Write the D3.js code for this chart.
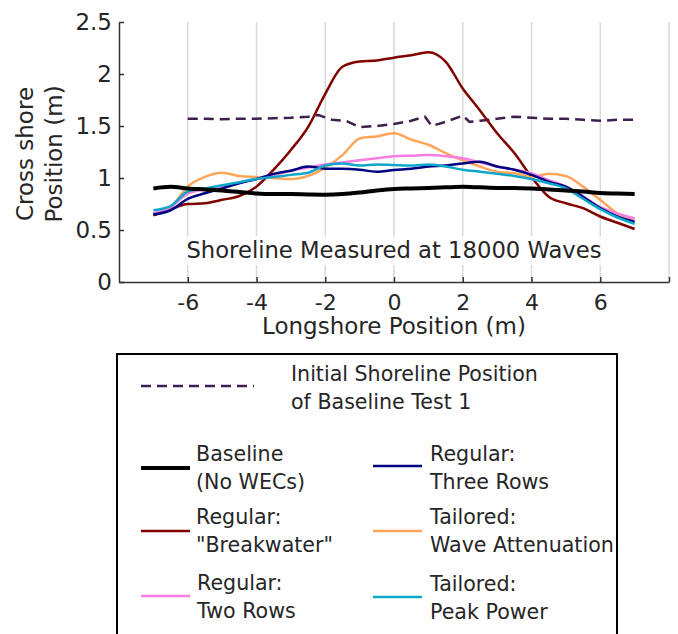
<!DOCTYPE html>
<html>
<head>
<meta charset="utf-8">
<script src="https://cdn.jsdelivr.net/npm/d3@7"></script>
<style>
  body { margin: 0; background: #fff; }
  svg text { font-family: "DejaVu Sans", Verdana, sans-serif; fill: #262626; }
</style>
</head>
<body>
<svg id="chart" width="678" height="634"></svg>
<script>
// longshore positions (m) for each curve
var xInitial = [-6, -5.5, -5, -4.5, -4, -3.5, -3, -2.5, -2.2, -1.8, -1.4, -1, -0.5, 0, 0.5, 0.9, 1.1, 1.5, 2.0, 2.2, 2.5, 3, 3.5, 4, 4.5, 5, 5.5, 6, 6.5, 7];
var initialShore = [1.57, 1.57, 1.565, 1.57, 1.57, 1.575, 1.58, 1.59, 1.605, 1.56, 1.55, 1.49, 1.50, 1.52, 1.55, 1.59, 1.50, 1.54, 1.60, 1.54, 1.55, 1.57, 1.59, 1.58, 1.57, 1.57, 1.56, 1.55, 1.56, 1.56];

var xPos = [-7, -6.5, -6, -5.5, -5, -4.5, -4, -3.5, -3, -2.5, -2, -1.5, -1, -0.5, 0, 0.5, 1, 1.5, 2, 2.5, 3, 3.5, 4, 4.5, 5, 5.5, 6, 6.5, 7];
var baseline    = [0.90, 0.915, 0.90, 0.89, 0.88, 0.865, 0.85, 0.845, 0.845, 0.842, 0.84, 0.845, 0.86, 0.88, 0.895, 0.90, 0.905, 0.91, 0.915, 0.91, 0.905, 0.905, 0.90, 0.89, 0.88, 0.87, 0.855, 0.85, 0.845];
var breakwater  = [0.64, 0.70, 0.75, 0.757, 0.79, 0.827, 0.917, 1.08, 1.27, 1.49, 1.81, 2.07, 2.12, 2.13, 2.157, 2.18, 2.21, 2.12, 1.86, 1.65, 1.43, 1.24, 1.01, 0.82, 0.757, 0.71, 0.63, 0.57, 0.51];
var twoRows     = [0.66, 0.72, 0.85, 0.89, 0.92, 0.955, 0.99, 1.03, 1.07, 1.10, 1.13, 1.15, 1.17, 1.19, 1.21, 1.215, 1.22, 1.21, 1.19, 1.15, 1.11, 1.08, 1.045, 0.98, 0.917, 0.82, 0.72, 0.66, 0.61];
var threeRows   = [0.65, 0.69, 0.80, 0.853, 0.90, 0.95, 0.99, 1.04, 1.07, 1.11, 1.09, 1.09, 1.08, 1.06, 1.077, 1.09, 1.11, 1.12, 1.14, 1.157, 1.11, 1.08, 1.03, 0.965, 0.917, 0.82, 0.71, 0.63, 0.58];
var waveAtten   = [0.66, 0.72, 0.917, 1.01, 1.05, 1.02, 1.01, 1.00, 0.99, 1.02, 1.10, 1.22, 1.38, 1.40, 1.43, 1.37, 1.32, 1.24, 1.17, 1.11, 1.06, 1.045, 1.01, 1.04, 1.02, 0.917, 0.79, 0.66, 0.61];
var peakPower   = [0.69, 0.73, 0.87, 0.90, 0.93, 0.96, 0.99, 1.01, 1.03, 1.05, 1.12, 1.14, 1.12, 1.13, 1.125, 1.12, 1.13, 1.11, 1.08, 1.06, 1.04, 1.02, 0.99, 0.95, 0.90, 0.80, 0.70, 0.62, 0.56];

var xGrid = [-6, -4, -2, 0, 2, 4, 6, 8];
var yTicks = [0, 0.5, 1, 1.5, 2, 2.5];

var series = [
  { name: "Baseline", lines: ["Baseline", "(No WECs)"], values: baseline, color: "#000000", width: 4 },
  { name: "Breakwater", lines: ["Regular:", "\"Breakwater\""], values: breakwater, color: "#800000", width: 2.5 },
  { name: "Two Rows", lines: ["Regular:", "Two Rows"], values: twoRows, color: "#f77fe3", width: 2.5 },
  { name: "Three Rows", lines: ["Regular:", "Three Rows"], values: threeRows, color: "#000080", width: 2.5 },
  { name: "Wave Attenuation", lines: ["Tailored:", "Wave Attenuation"], values: waveAtten, color: "#ffa65a", width: 2.5 },
  { name: "Peak Power", lines: ["Tailored:", "Peak Power"], values: peakPower, color: "#10a6c9", width: 2.5 }
];

var svg = d3.select("#chart");
var plotL = 119, plotR = 669, plotT = 22, plotB = 282;

var x = d3.scaleLinear().domain([-8, 8]).range([plotL, plotR]);
var y = d3.scaleLinear().domain([0, 2.5]).range([plotB, plotT]);

// gridlines
svg.append("g").selectAll("line")
  .data(xGrid).enter().append("line")
  .attr("x1", function(d) { return x(d); })
  .attr("x2", function(d) { return x(d); })
  .attr("y1", plotT).attr("y2", plotB)
  .attr("stroke", "#d9d9d9").attr("stroke-width", 1.5);

// title box
var title = svg.append("g");
title.append("rect")
  .attr("x", x(-6) - 2).attr("y", 236).attr("width", x(6) - x(-6) + 4).attr("height", 29)
  .attr("fill", "#ffffff").attr("fill-opacity", 0.8);
title.append("text")
  .attr("x", x(0)).attr("y", 258)
  .attr("text-anchor", "middle").attr("font-size", "22.7px")
  .text("Shoreline Measured at 18000 Waves");

var smooth = d3.line()
  .x(function(d) { return x(d[0]); })
  .y(function(d) { return y(d[1]); })
  .curve(d3.curveMonotoneX);
var straight = d3.line()
  .x(function(d) { return x(d[0]); })
  .y(function(d) { return y(d[1]); });

// initial shoreline
svg.append("path")
  .datum(d3.zip(xInitial, initialShore))
  .attr("d", straight)
  .attr("fill", "none").attr("stroke", "#3f1f4c")
  .attr("stroke-width", 2.5).attr("stroke-dasharray", "10,6");

var order = [1, 4, 2, 3, 5, 0];
order.forEach(function(i) {
  var s = series[i];
  svg.append("path")
    .datum(d3.zip(xPos, s.values))
    .attr("d", smooth)
    .attr("fill", "none").attr("stroke", s.color)
    .attr("stroke-width", s.width).attr("stroke-linejoin", "round");
});

// axes
var xAxis = svg.append("g").attr("transform", "translate(0," + plotB + ")")
  .call(d3.axisBottom(x).tickValues(xGrid).tickSizeInner(-5).tickSizeOuter(0)
    .tickFormat(function(d) { return d === 8 ? "" : d; }));
xAxis.select(".domain").attr("stroke", "#333").attr("stroke-width", 1.5);
xAxis.selectAll(".tick line").attr("stroke", "#333").attr("stroke-width", 1.5);
xAxis.selectAll(".tick text").attr("font-size", "22px").attr("font-family", "DejaVu Sans").attr("fill", "#262626").attr("dy", "0.71em").attr("y", 12);

var yAxis = svg.append("g").attr("transform", "translate(" + plotL + ",0)")
  .call(d3.axisLeft(y).tickValues(yTicks).tickSizeInner(-5).tickSizeOuter(0).tickPadding(7)
    .tickFormat(function(d) { return d; }));
yAxis.select(".domain").attr("stroke", "#333").attr("stroke-width", 1.5);
yAxis.selectAll(".tick line").attr("stroke", "#333").attr("stroke-width", 1.5);
yAxis.selectAll(".tick text").attr("font-size", "23px").attr("font-family", "DejaVu Sans").attr("fill", "#262626");

svg.append("text")
  .attr("x", x(0)).attr("y", 334)
  .attr("text-anchor", "middle").attr("font-size", "23px")
  .text("Longshore Position (m)");

var yl = svg.append("text")
  .attr("transform", "translate(0,154) rotate(-90)")
  .attr("text-anchor", "middle").attr("font-size", "23px");
yl.append("tspan").attr("x", 0).attr("y", 33).text("Cross shore");
yl.append("tspan").attr("x", 0).attr("y", 62).text("Position (m)");

// legend
var leg = svg.append("g");
leg.append("rect")
  .attr("x", 117).attr("y", 354).attr("width", 500).attr("height", 300)
  .attr("fill", "none").attr("stroke", "#000").attr("stroke-width", 2);

leg.append("line")
  .attr("x1", 141).attr("x2", 254).attr("y1", 386).attr("y2", 386)
  .attr("stroke", "#3f1f4c").attr("stroke-width", 2.5).attr("stroke-dasharray", "10,6");
var lt = leg.append("text").attr("font-size", "20.6px");
lt.append("tspan").attr("x", 291).attr("y", 381).text("Initial Shoreline Position");
lt.append("tspan").attr("x", 291).attr("y", 409).text("of Baseline Test 1");

var legPos = [
  { lx: 141, ly: 468, tx: 196, ty: 461 },
  { lx: 141, ly: 531, tx: 196, ty: 524 },
  { lx: 141, ly: 596, tx: 197, ty: 590 },
  { lx: 373, ly: 466, tx: 430, ty: 461 },
  { lx: 373, ly: 531, tx: 430, ty: 524 },
  { lx: 373, ly: 597, tx: 430, ty: 591 }
];
series.forEach(function(s, i) {
  var p = legPos[i];
  leg.append("line")
    .attr("x1", p.lx).attr("x2", p.lx + 49).attr("y1", p.ly).attr("y2", p.ly)
    .attr("stroke", s.color).attr("stroke-width", s.width);
  var t = leg.append("text").attr("font-size", "20.6px");
  s.lines.forEach(function(l, j) {
    t.append("tspan").attr("x", p.tx).attr("y", p.ty + j * 28).text(l);
  });
});
</script>
</body>
</html>
